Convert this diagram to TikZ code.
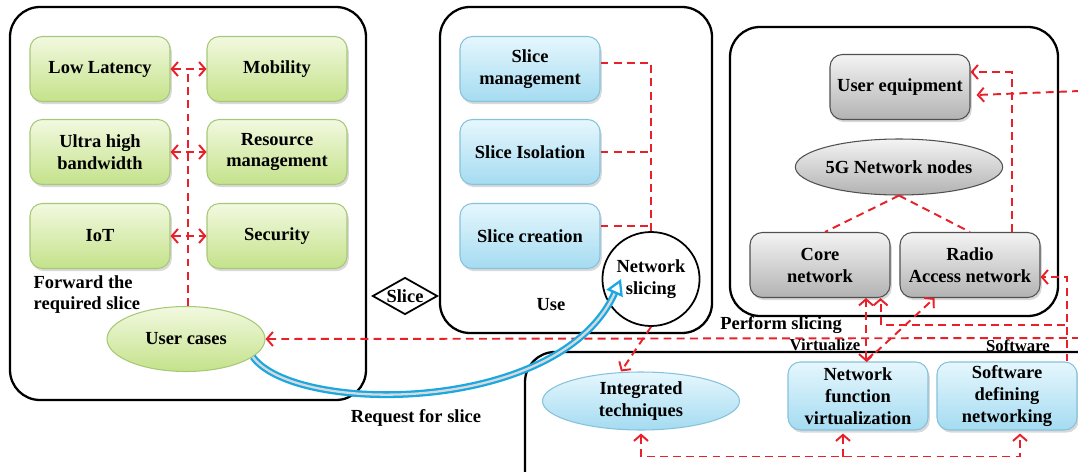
\documentclass[tikz,border=0pt]{standalone}
\usepackage{fontspec}
\setmainfont{Liberation Serif}
\usetikzlibrary{arrows.meta,shapes.geometric,shadows}

\definecolor{gtop}{HTML}{F2F9E0}
\definecolor{gbot}{HTML}{C4E28A}
\definecolor{gline}{HTML}{A7C878}
\definecolor{btop}{HTML}{E6F7FD}
\definecolor{bbot}{HTML}{A4DBF1}
\definecolor{bline}{HTML}{86C2DC}
\definecolor{ktop}{HTML}{F4F4F4}
\definecolor{kbot}{HTML}{B2B2B2}
\definecolor{kline}{HTML}{505050}
\definecolor{linkred}{HTML}{E8202A}
\definecolor{reqblue}{HTML}{1AA8E2}

\tikzset{
  txt/.style={font=\fontsize{10.5}{12.5}\selectfont\bfseries},
  small/.style={font=\fontsize{9.5}{11}\selectfont\bfseries},
  frame/.style={draw, line width=1.3pt, rounded corners=0.6cm},
  box/.style={txt, rectangle, rounded corners=7pt, minimum width=2.8cm,
    minimum height=1.3cm, align=center, line width=0.6pt,
    drop shadow={shadow xshift=1pt, shadow yshift=-1.5pt, opacity=0.3}},
  greenbox/.style={box, draw=gline, top color=gtop, bottom color=gbot},
  bluebox/.style={box, draw=bline, top color=btop, bottom color=bbot},
  graybox/.style={box, draw=kline, top color=ktop, bottom color=kbot},
  oval/.style={txt, ellipse, align=center, inner sep=0pt, line width=0.6pt},
  link/.style={draw=linkred, line width=1.1pt, dash pattern=on 4.5pt off 3pt,
    >={Straight Barb[length=3.5pt,width=8pt]}},
  request/.style={draw=reqblue, double=gray!30, double distance=1.3pt,
    line width=1.3pt, -{Triangle[open,length=9pt,width=10pt]}}
}

\begin{document}
\begin{tikzpicture}
\useasboundingbox (0,0) rectangle (21.56,-9.44);
\clip (0,0) rectangle (21.56,-9.44);

% frames
\draw[frame] (0.2,-0.14) rectangle (7.32,-8.0);
\draw[frame] (8.8,-0.14) rectangle (14.24,-6.66);
\draw[frame] (14.6,-0.54) rectangle (21.16,-6.32);
\draw[frame] (10.5,-7.04) rectangle (22.4,-10.2);

% use cases
\node[greenbox] (lowlat) at (2.0,-1.38) {Low Latency};
\node[greenbox] (mobility) at (5.54,-1.38) {Mobility};
\node[greenbox] (bandwidth) at (2.0,-3.04) {Ultra high\\bandwidth};
\node[greenbox] (resource) at (5.54,-3.04) {Resource\\management};
\node[greenbox] (iot) at (2.0,-4.72) {IoT};
\node[greenbox] (security) at (5.54,-4.72) {Security};
\node[oval, draw=gline, top color=gtop, bottom color=gbot,
  minimum width=3.16cm, minimum height=1.3cm] (usercases) at (3.72,-6.78) {User cases};
\node[txt, anchor=north west, align=left] (forward) at (0.55,-5.38) {Forward the\\required slice};

% slicing
\node[bluebox] (slmgmt) at (10.6,-1.38) {Slice\\management};
\node[bluebox] (sliso) at (10.6,-3.04) {Slice Isolation};
\node[bluebox] (slcreate) at (10.6,-4.72) {Slice creation};
\node[oval, draw, line width=1pt, fill=white, minimum width=1.64cm,
  minimum height=1.88cm] (netslice) at (13.02,-5.58) {Network\\slicing};
\node[txt] (use) at (11.02,-6.1) {Use};
\node[diamond, draw, line width=1pt, inner sep=0pt, minimum width=1.3cm,
  minimum height=0.74cm, label={[txt]center:Slice}] (slice) at (8.1,-5.92) {};

% 5G network
\node[graybox] (ue) at (18.0,-1.74) {User equipment};
\node[oval, draw=kline, top color=ktop, bottom color=kbot,
  minimum width=4.1cm, minimum height=1.12cm] (fgnodes) at (17.98,-3.34) {5G Network nodes};
\node[graybox] (core) at (16.4,-5.3) {Core\\network};
\node[graybox] (radio) at (19.4,-5.3) {Radio\\Access network};

% techniques
\node[oval, draw=bline, top color=btop, bottom color=bbot,
  minimum width=3.94cm, minimum height=1.16cm] (integ) at (12.82,-8.02) {Integrated\\techniques};
\node[bluebox, inner sep=1pt, minimum height=1.36cm] (nfv) at (17.16,-7.92) {Network\\function\\virtualization};
\node[bluebox, inner sep=1pt, minimum height=1.36cm] (sdn) at (20.14,-7.92) {Software\\defining\\networking};

\node[txt] (perform) at (15.62,-6.5) {Perform slicing};
\node[small] (virt) at (16.5,-6.9) {Virtualize};
\node[small] (soft) at (20.36,-6.92) {Software};
\node[txt] (reqtext) at (8.32,-8.36) {Request for slice};

% red links
\coordinate (spine) at (3.76,-1.38);
\draw[link] (usercases.north -| spine) -- (spine);
\draw[link,<->] (lowlat.east) -- (mobility.west);
\draw[link,<->] (bandwidth.east) -- (resource.west);
\draw[link,<->] (iot.east) -- (security.west);

\draw[link] ([yshift=1.2mm]slmgmt.east) -| (netslice.north);
\draw[link] (sliso.east) -- (sliso.east -| netslice.north);
\draw[link] ([yshift=2mm]slcreate.east) -- ([yshift=2mm]slcreate.east -| netslice.north);

\draw[link] (fgnodes.south) -- ([xshift=1mm]core.north);
\draw[link] (fgnodes.south) -- (radio.north);
\draw[link,->] ([xshift=-5.8mm]radio.north east) |- ([yshift=3mm]ue.east);
\coordinate (uefeed) at (21.6,-1.82);
\draw[link,->] (uefeed) -- ([xshift=1.2mm,yshift=-1.6mm]ue.east);
\coordinate (sdnup) at ([xshift=-2.2mm]sdn.north east);
\draw[link,->] (sdnup) |- ([yshift=-2.4mm]radio.east);
\coordinate (tap) at (21.3,-6.5);
\draw[link,->] (tap) -| ([xshift=-2mm]core.south east);
\draw[link,<->] ([xshift=1.6mm]nfv.north) -- ([xshift=1.6mm]nfv.north |- core.south);
\draw[link,->] ([xshift=1.6mm]nfv.north) -- ([xshift=7mm]radio.south west);
\draw[link,->] (netslice.south) -- ([xshift=-4mm]integ.north);
\coordinate (backfeed) at (21.6,-6.76);
\draw[link,->] (backfeed) -- (usercases.east);

\draw[link,<->] ([yshift=-0.6mm]integ.south) -- ++(0,-0.46) -| ([xshift=2.6mm,yshift=-0.6mm]sdn.south);
\draw[link,<-] ([xshift=-3mm,yshift=-0.6mm]nfv.south) -- ++(0,-0.46);

% request
\draw[request] (usercases.-15) .. controls (5.9,-8.3) and (11.2,-8.3) .. ([xshift=-6mm]netslice.center);
\end{tikzpicture}
\end{document}
